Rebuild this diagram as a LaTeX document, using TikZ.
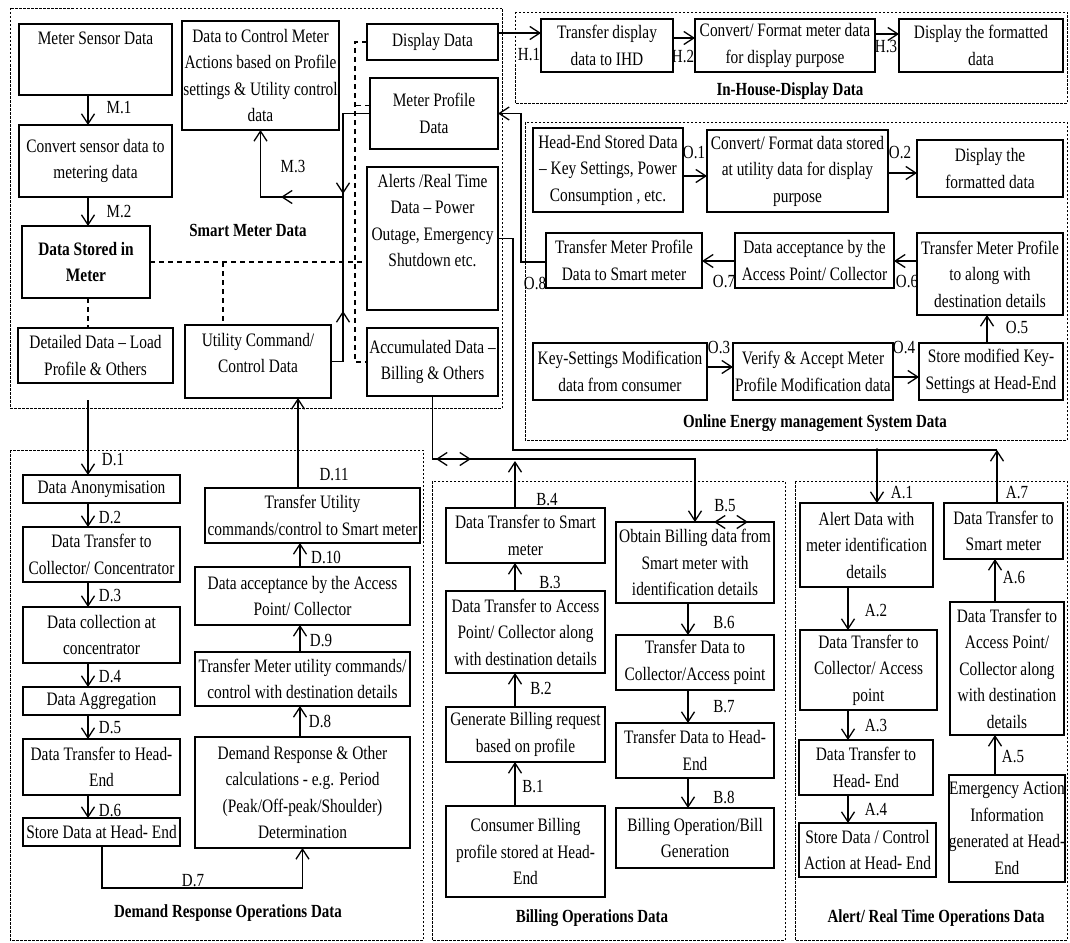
\documentclass[tikz,border=0pt]{standalone}
\usepackage{fontspec}
\setmainfont{Liberation Serif}[FakeStretch=0.81]
\usetikzlibrary{arrows.meta}
\newcommand\mainfnt{\fontsize{19}{26.5}\selectfont}
% box by its corners: [options]{name}{x1}{y1}{x2}{y2}{text}
\newcommand\mybox[7][]{%
  \node[bx,minimum width={#5-#3},minimum height={#6-#4},#1] (#2) at ({(#3+#5)/2},{(#4+#6)/2}) {#7};}
\tikzset{
  bx/.style={draw,line width=1.5pt,align=center,inner sep=0pt,outer sep=0pt,font=\mainfnt},
  txt/.style={align=center,inner sep=0pt,font=\mainfnt},
  lbl/.style={inner sep=0pt,font=\fontsize{18.5}{21}\selectfont},
  ttl/.style={inner sep=0pt,font=\fontsize{18.5}{22}\selectfont\bfseries},
  region/.style={draw,line width=0.9pt,dash pattern=on 2.5pt off 1.5pt},
  link/.style={line width=1.3pt},
  arr/.style={link,-{Straight Barb[length=10pt,width=13pt]}},
  darr/.style={link,{Straight Barb[length=10pt,width=13pt]}-{Straight Barb[length=10pt,width=13pt]}},
  dsh/.style={line width=1.3pt,dash pattern=on 5pt off 4pt},
}
\begin{document}
\begin{tikzpicture}[x=1pt,y=-1pt]
\useasboundingbox (0,0) rectangle (1070,942);
\fill[white] (0,0) rectangle (1070,942);

% ---------- group borders ----------
\draw[region] (10,8) rectangle (502,408);
\draw[region] (515,12) rectangle (1067,103);
\draw[region] (525,122) rectangle (1067,440);
\draw[region] (10,450) rectangle (423,940);
\draw[region] (432,481) rectangle (785,940);
\draw[region] (795,481) rectangle (1067,940);

% ---------- Smart Meter Data ----------
\mybox[label={[txt,anchor=north,yshift=-8pt]north:Meter Sensor Data}]{msd}{19}{24}{172}{95}{}
\mybox{conv}{19}{125}{172}{197}{Convert sensor data to\\metering data}
\mybox[font=\mainfnt\bfseries]{dsm}{22}{226}{150}{298}{Data Stored in\\Meter}
\mybox{det}{18}{328}{173}{383}{Detailed Data -- Load\\Profile \& Others}
\mybox{dtc}{182}{21}{339}{130}{Data to Control Meter\\Actions based on Profile\\settings \& Utility control\\data}
\mybox[label={[txt,anchor=north,yshift=-8pt]north:{Utility Command/\\Control Data}}]{ucd}{185}{325}{331}{398}{}
\mybox{dd}{367}{24}{498}{60}{Display Data}
\mybox{mpd}{370}{78}{498}{149}{Meter Profile\\Data}
\mybox[label={[txt,anchor=north,yshift=-7pt]north:{Alerts /Real Time\\Data -- Power\\Outage, Emergency\\Shutdown etc.}}]{alerts}{367}{167}{498}{310}{}
\mybox{acc}{367}{328}{498}{396}{Accumulated Data --\\Billing \& Others}
\node[ttl] (tsm) at (248,230) {Smart Meter Data};

% dashed data links inside the meter
\draw[dsh] (dsm.east) -- (alerts.west |- dsm.east);
\draw[dsh] (223,0 |- dsm.east) -- (223,0 |- ucd.north);
\draw[dsh] (88,0 |- dsm.south) -- (88,0 |- det.north);
\draw[dsh] (dd.west) -| (355,0 |- acc.west) -- (acc.west);
\draw[dsh] ([yshift=8pt]mpd.west) -- ++(-15,0);

% M.1, M.2
\draw[arr] (88,0 |- msd.south) -- (88,0 |- conv.north);
\draw[arr] (88,0 |- conv.south) -- (88,0 |- dsm.north);
\node[lbl] (lm1) at (119,108) {M.1};
\node[lbl] (lm2) at (119,212) {M.2};

% M.3 loop to the control data
\coordinate (mj) at (343,197);
\draw[arr] (mpd.west) -| (mj) -| (dtc.south);
\draw[link] (ucd.east) -| (mj);
\draw[arr] (343,172) -- (343,194);
\draw[arr] (343,332) -- (343,311);
\draw[arr] (304,197) -- (281,197);
\node[lbl] (lm3) at (293,167) {M.3};

% ---------- In-House-Display Data ----------
\mybox{tdi}{541}{19}{673}{72}{Transfer display\\data to IHD}
\mybox{cfm}{695}{19}{875}{72}{Convert/ Format meter data\\for display purpose}
\mybox{dfa}{899}{19}{1063}{72}{Display the formatted\\data}
\node[ttl] (tihd) at (790,91) {In-House-Display Data};
\draw[arr] (dd.east |- 0,33) -- (tdi.west |- 0,33);
\draw[arr] (tdi.east |- 0,38) -- (cfm.west |- 0,38);
\draw[arr] (cfm.east |- 0,34) -- (dfa.west |- 0,34);
\node[lbl] (lh1) at (529,55) {H.1};
\node[lbl] (lh2) at (683,57) {H.2};
\node[lbl] (lh3) at (886,47) {H.3};

% ---------- Online Energy management System Data ----------
\mybox{hes}{533}{128}{683}{212}{Head-End Stored Data\\-- Key Settings, Power\\Consumption , etc.}
\mybox{cfd}{707}{130}{888}{212}{Convert/ Format data stored\\at utility data for display\\purpose}
\mybox{dfb}{917}{140}{1063}{197}{Display the\\formatted data}
\mybox{tms}{546}{233}{702}{288}{Transfer Meter Profile\\Data to Smart meter}
\mybox{dac}{735}{233}{894}{288}{Data acceptance by the\\Access Point/ Collector}
\mybox{tmd}{917}{233}{1063}{315}{Transfer Meter Profile\\to along with\\destination details}
\mybox{ksm}{533}{343}{707}{400}{Key-Settings Modification\\data from consumer}
\mybox{vam}{733}{343}{893}{400}{Verify \& Accept Meter\\Profile Modification data}
\mybox{smk}{919}{343}{1063}{400}{Store modified Key-\\Settings at Head-End}
\node[ttl] (toems) at (815,423) {Online Energy management System Data};
\draw[arr] (hes.east |- 0,176) -- (cfd.west |- 0,176);
\draw[arr] (cfd.east |- 0,173) -- (dfb.west |- 0,173);
\draw[arr] (tmd.west |- 0,261) -- (dac.east |- 0,261);
\draw[arr] (dac.west |- 0,261) -- (tms.east |- 0,261);
\draw[arr] (ksm.east |- 0,367) -- (vam.west |- 0,367);
\draw[arr] (vam.east |- 0,377) -- (smk.west |- 0,377);
\draw[arr] (987,0 |- smk.north) -- (987,0 |- tmd.south);
\draw[arr] (tms.west |- 0,262) -| (521,0 |- mpd.east) -- (mpd.east);
\node[lbl] (lo1) at (694,153) {O.1};
\node[lbl] (lo2) at (900,153) {O.2};
\node[lbl] (lo3) at (719,348) {O.3};
\node[lbl] (lo4) at (904,348) {O.4};
\node[lbl] (lo5) at (1017,328) {O.5};
\node[lbl] (lo6) at (907,282) {O.6};
\node[lbl] (lo7) at (724,282) {O.7};
\node[lbl] (lo8) at (535,283) {O.8};

% ---------- Demand Response Operations Data ----------
\mybox{da}{23}{475}{180}{503}{Data Anonymisation}
\mybox{dtcc}{23}{527}{180}{582}{Data Transfer to\\Collector/ Concentrator}
\mybox{dcc}{23}{607}{180}{663}{Data collection at\\concentrator}
\mybox{dag}{23}{687}{180}{715}{Data Aggregation}
\mybox{dth}{23}{739}{180}{795}{Data Transfer to Head-\\End}
\mybox{sdh}{23}{818}{180}{846}{Store Data at Head- End}
\mybox{tuc}{205}{488}{420}{543}{Transfer Utility\\commands/control to Smart meter}
\mybox{dap}{195}{567}{410}{625}{Data acceptance by the Access\\Point/ Collector}
\mybox{tmu}{195}{652}{410}{706}{Transfer Meter utility commands/\\control with destination details}
\mybox{drc}{195}{737}{410}{848}{Demand Response \& Other\\calculations - e.g. Period\\(Peak/Off-peak/Shoulder)\\Determination}
\node[ttl] (tdr) at (228,913) {Demand Response Operations Data};
\coordinate (d1s) at (88,400);
\draw[arr] (d1s) -- (88,0 |- da.north);
\draw[arr] (88,0 |- da.south) -- (88,0 |- dtcc.north);
\draw[arr] (88,0 |- dtcc.south) -- (88,0 |- dcc.north);
\draw[arr] (88,0 |- dcc.south) -- (88,0 |- dag.north);
\draw[arr] (88,0 |- dag.south) -- (88,0 |- dth.north);
\draw[arr] (88,0 |- dth.south) -- (88,0 |- sdh.north);
\draw[arr] (102,0 |- sdh.south) |- (drc.south |- 0,888) -- (drc.south);
\draw[arr] (300,0 |- drc.north) -- (300,0 |- tmu.south);
\draw[arr] (300,0 |- tmu.north) -- (300,0 |- dap.south);
\draw[arr] (300,0 |- dap.north) -- (300,0 |- tuc.south);
\draw[arr] (298,0 |- tuc.north) -- (298,0 |- ucd.south);
\node[lbl] (ld1) at (113,460) {D.1};
\node[lbl] (ld2) at (110,517) {D.2};
\node[lbl] (ld3) at (110,595) {D.3};
\node[lbl] (ld4) at (110,677) {D.4};
\node[lbl] (ld5) at (110,728) {D.5};
\node[lbl] (ld6) at (110,810) {D.6};
\node[lbl] (ld7) at (193,881) {D.7};
\node[lbl] (ld8) at (320,721) {D.8};
\node[lbl] (ld9) at (321,640) {D.9};
\node[lbl] (ld10) at (326,557) {D.10};
\node[lbl] (ld11) at (334,475) {D.11};

% ---------- Billing Operations Data ----------
\mybox{bts}{446}{508}{605}{563}{Data Transfer to Smart\\meter}
\mybox{bta}{446}{591}{605}{673}{Data Transfer to Access\\Point/ Collector along\\with destination details}
\mybox{gbr}{446}{707}{605}{762}{Generate Billing request\\based on profile}
\mybox{cbp}{446}{806}{605}{897}{Consumer Billing\\profile stored at Head-\\End}
\mybox{obd}{616}{522}{774}{603}{Obtain Billing data from\\Smart meter with\\identification details}
\mybox{tdc}{616}{635}{774}{690}{Transfer Data to\\Collector/Access point}
\mybox{tdh}{616}{723}{774}{778}{Transfer Data to Head-\\End}
\mybox{bog}{616}{808}{774}{868}{Billing Operation/Bill\\Generation}
\node[ttl] (tbo) at (592,918) {Billing Operations Data};
\draw[arr] (acc.south) |- (695,459) -- (695,0 |- obd.north);
\draw[darr] (436,459) -- (471,459);
\draw[arr] (515,0 |- bts.north) -- (515,461);
\draw[darr] (714,0 |- obd.north) -- (748,0 |- obd.north);
\draw[arr] (515,0 |- bta.north) -- (515,0 |- bts.south);
\draw[arr] (515,0 |- gbr.north) -- (515,0 |- bta.south);
\draw[arr] (515,0 |- cbp.north) -- (515,0 |- gbr.south);
\draw[arr] (688,0 |- obd.south) -- (688,0 |- tdc.north);
\draw[arr] (688,0 |- tdc.south) -- (688,0 |- tdh.north);
\draw[arr] (688,0 |- tdh.south) -- (688,0 |- bog.north);
\node[lbl] (lb1) at (533,787) {B.1};
\node[lbl] (lb2) at (541,688) {B.2};
\node[lbl] (lb3) at (550,582) {B.3};
\node[lbl] (lb4) at (547,500) {B.4};
\node[lbl] (lb5) at (725,506) {B.5};
\node[lbl] (lb6) at (724,622) {B.6};
\node[lbl] (lb7) at (724,707) {B.7};
\node[lbl] (lb8) at (724,797) {B.8};

% ---------- Alert / Real Time Operations Data ----------
\mybox{adm}{800}{503}{933}{587}{Alert Data with\\meter identification\\details}
\mybox{atc}{800}{630}{937}{710}{Data Transfer to\\Collector/ Access\\point}
\mybox{ath}{799}{740}{933}{795}{Data Transfer to\\Head- End}
\mybox{asd}{799}{823}{936}{877}{Store Data / Control\\Action at Head- End}
\mybox{ats}{944}{503}{1063}{559}{Data Transfer to\\Smart meter}
\mybox{ata}{950}{602}{1064}{735}{Data Transfer to\\Access Point/\\Collector along\\with destination\\details}
\mybox{eai}{950}{775}{1064}{882}{Emergency Action\\Information\\generated at Head-\\End}
\node[ttl] (tal) at (936,918) {Alert/ Real Time Operations Data};
\coordinate (abus) at (997,450);
\draw[link] (alerts.east) -| (513,450) -- (abus);
\fill (877,450) circle (1.8pt);
\draw[arr] (877,450) -- (877,0 |- adm.north);
\draw[arr] (997,0 |- ats.north) -- (abus);
\draw[arr] (848,0 |- adm.south) -- (848,0 |- atc.north);
\draw[arr] (848,0 |- atc.south) -- (848,0 |- ath.north);
\draw[arr] (848,0 |- ath.south) -- (848,0 |- asd.north);
\draw[arr] (995,0 |- ata.north) -- (995,0 |- ats.south);
\draw[arr] (995,0 |- eai.north) -- (995,0 |- ata.south);
\node[lbl] (la1) at (902,493) {A.1};
\node[lbl] (la2) at (876,610) {A.2};
\node[lbl] (la3) at (876,725) {A.3};
\node[lbl] (la4) at (876,810) {A.4};
\node[lbl] (la5) at (1013,757) {A.5};
\node[lbl] (la6) at (1014,577) {A.6};
\node[lbl] (la7) at (1017,493) {A.7};
\end{tikzpicture}
\end{document}
